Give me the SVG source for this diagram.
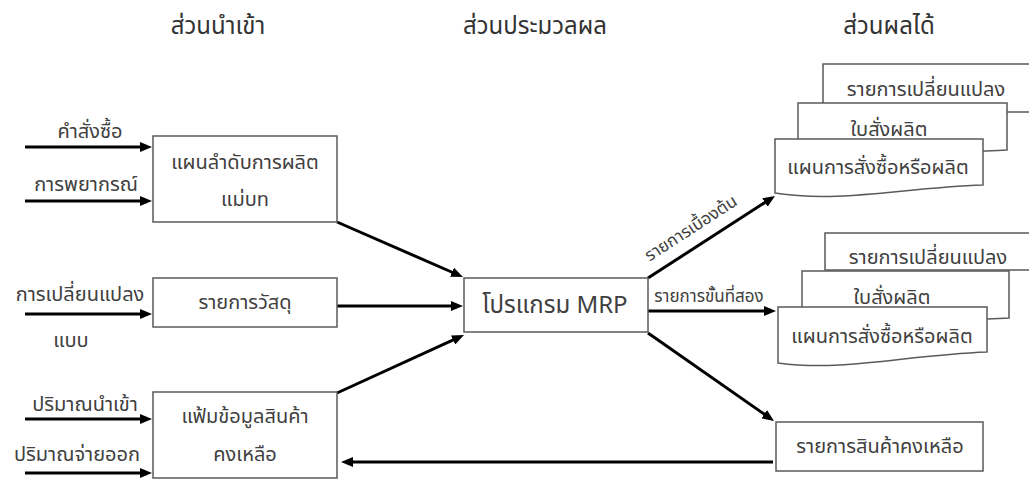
<svg xmlns="http://www.w3.org/2000/svg" width="1029" height="480" viewBox="0 0 1029 480">
<style>
.t{font-family:"Noto Sans Thai","Leelawadee UI",Tahoma,"DejaVu Sans",sans-serif;font-size:20px;fill:#404040;text-anchor:middle}
.h{font-size:24px;fill:#333}
.s{font-size:17px}
.b{fill:#fff;stroke:#5a5a5a;stroke-width:1.5}
.c{stroke:#000;stroke-width:3;fill:none;marker-end:url(#ah)}
</style>
<defs>
<marker id="ah" markerUnits="userSpaceOnUse" markerWidth="12" markerHeight="10" refX="2" refY="5" orient="auto">
<path d="M0,0 L12,5 L0,10 z" fill="#000"/>
</marker>
</defs>
<g id="headers">
<text class="t h" x="218" y="34">ส่วนนำเข้า</text>
<text class="t h" x="535" y="34">ส่วนประมวลผล</text>
<text class="t h" x="889" y="34">ส่วนผลได้</text>
</g>
<g id="connectors">
<line class="c" x1="25" y1="147" x2="142" y2="147"/>
<line class="c" x1="25" y1="201" x2="142" y2="201"/>
<line class="c" x1="25" y1="314" x2="142" y2="314"/>
<line class="c" x1="25" y1="419" x2="142" y2="419"/>
<line class="c" x1="25" y1="473" x2="142" y2="473"/>
<line class="c" x1="337" y1="222" x2="453.8" y2="273"/>
<line class="c" x1="337" y1="306" x2="453" y2="306"/>
<line class="c" x1="337" y1="393" x2="454.9" y2="339.2"/>
<line class="c" x1="648" y1="278" x2="766.6" y2="201.4"/>
<line class="c" x1="648" y1="311" x2="766" y2="311"/>
<line class="c" x1="648" y1="333" x2="765.8" y2="415.3"/>
<line class="c" x1="773" y1="462" x2="351" y2="462"/>
</g>
<g id="input-labels">
<text class="t" x="90" y="138">คำสั่งซื้อ</text>
<text class="t" x="86" y="191">การพยากรณ์</text>
<text class="t" x="80" y="301">การเปลี่ยนแปลง</text>
<text class="t" x="71" y="347">แบบ</text>
<text class="t" x="85" y="411">ปริมาณนำเข้า</text>
<text class="t" x="77" y="461">ปริมาณจ่ายออก</text>
<text class="t s" transform="translate(694,233) rotate(-33)" x="0" y="0">รายการเบื้องต้น</text>
<text class="t s" x="709" y="302">รายการขั้นที่สอง</text>
</g>
<g id="mps">
<rect class="b" x="153" y="136" width="184" height="86"/>
<text class="t" x="245" y="169">แผนลำดับการผลิต</text>
<text class="t" x="245" y="206">แม่บท</text>
</g>
<g id="bom">
<rect class="b" x="153" y="278" width="184" height="49"/>
<text class="t" x="245" y="309">รายการวัสดุ</text>
</g>
<g id="inventory-file">
<rect class="b" x="153" y="392" width="184" height="86"/>
<text class="t" x="245" y="423">แฟ้มข้อมูลสินค้า</text>
<text class="t" x="245" y="461">คงเหลือ</text>
</g>
<g id="mrp">
<rect class="b" x="464" y="278" width="184" height="54"/>
<text class="t" style="font-size:24px" x="555" y="313">โปรแกรม MRP</text>
</g>
<g id="docs-top">
<path class="b" d="M823,64 H1040 V112 H823 Z"/>
<text class="t" x="926" y="96">รายการเปลี่ยนแปลง</text>
<path class="b" d="M798,103 H1007 V150 C950,152 880,160 798,156 Z"/>
<text class="t" x="889" y="136">ใบสั่งผลิต</text>
<path class="b" d="M775,139 H983 V185 C900,188 840,203 775,193 Z"/>
<text class="t" x="878" y="174">แผนการสั่งซื้อหรือผลิต</text>
</g>
<g id="docs-mid">
<path class="b" d="M825,233 H1040 V270 H825 Z"/>
<text class="t" x="928" y="264">รายการเปลี่ยนแปลง</text>
<path class="b" d="M802,271 H1009 V318 C950,320 880,328 802,324 Z"/>
<text class="t" x="892" y="304">ใบสั่งผลิต</text>
<path class="b" d="M778,307 H987 V352 C905,355 845,372 778,363 Z"/>
<text class="t" x="882" y="343">แผนการสั่งซื้อหรือผลิต</text>
</g>
<g id="remaining">
<rect class="b" x="776" y="422" width="207" height="49"/>
<text class="t" x="880" y="453">รายการสินค้าคงเหลือ</text>
</g>
</svg>
